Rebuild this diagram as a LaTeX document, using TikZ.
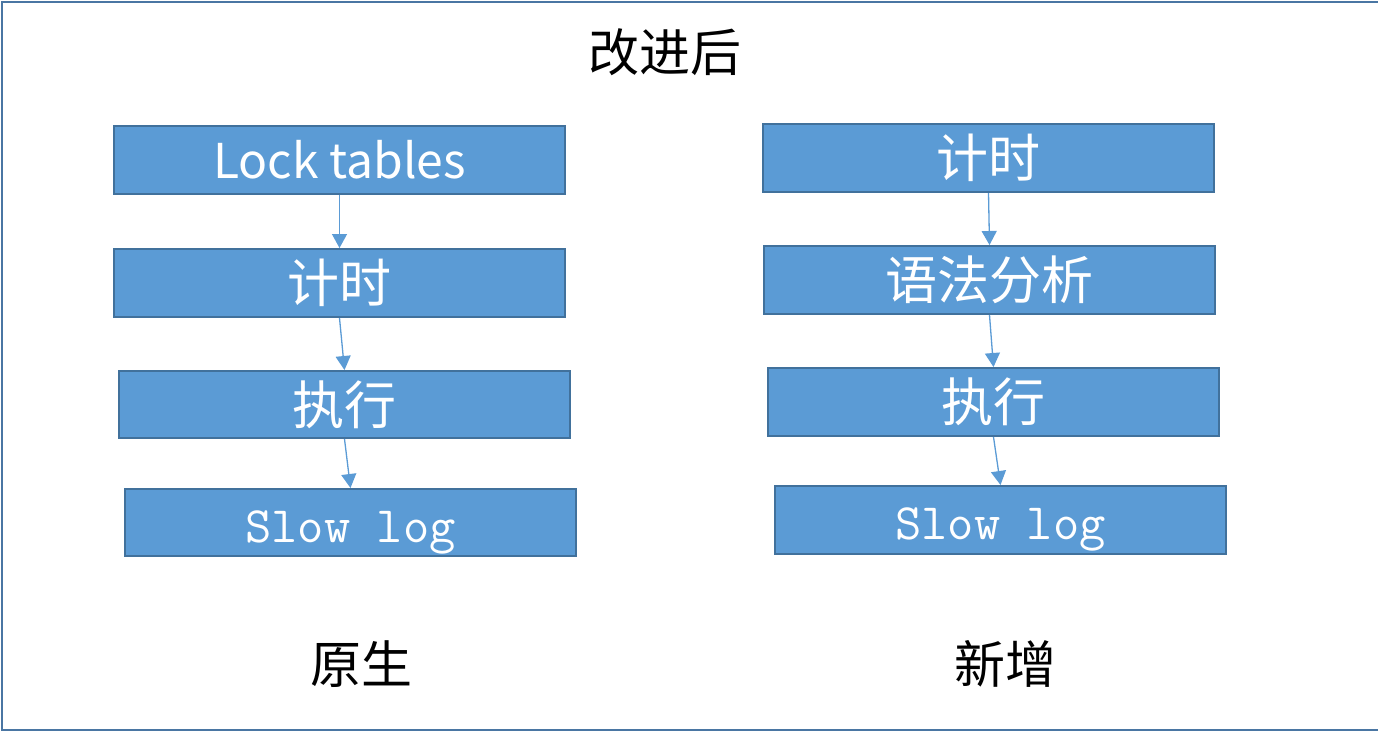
\documentclass[tikz,border=0pt]{standalone}
\usepackage{fontspec}
\newfontfamily\cjk{Noto Sans CJK SC}
\usetikzlibrary{arrows.meta}
\definecolor{boxfill}{HTML}{5B9BD5}
\definecolor{boxline}{HTML}{41719C}
\definecolor{frameline}{HTML}{4A76A3}
\tikzset{
  stepbox/.style={draw=boxline, line width=2pt, fill=boxfill, minimum width=451pt, minimum height=68pt, inner sep=0pt, text=white, font=\cjk\fontsize{52}{52}\selectfont},
  monobox/.style={stepbox, font=\ttfamily\fontsize{51}{51}\selectfont, text depth=1pt, text height=40pt},
  latbox/.style={stepbox, font=\cjk\fontsize{48}{48}\selectfont},
  flow/.style={draw=boxfill, line width=1.3pt, -{Triangle[length=14pt,width=15pt]}},
  label/.style={font=\cjk\fontsize{51}{51}\selectfont, text=black, inner sep=0pt}
}
\begin{document}
\begin{tikzpicture}[x=1pt,y=-1pt]
\useasboundingbox (0,0) rectangle (1378,732);
\draw[frameline, line width=2.5pt] (2,2) rectangle (1385,730);
\node[label] (title) at (665,52) {改进后};
% left column
\node[latbox] (a1) at (339.5,160) {Lock tables};
\node[stepbox] (a2) at (339.5,283) {计时};
\node[stepbox, minimum height=67pt] (a3) at (344.5,404.5) {执行};
\node[monobox, minimum height=67pt] (a4) at (350.5,522.5) {Slow log};
% right column
\node[stepbox] (b1) at (988.5,158) {计时};
\node[stepbox] (b2) at (989.5,280) {语法分析};
\node[stepbox] (b3) at (993.5,402) {执行};
\node[monobox] (b4) at (1000.5,520) {Slow log};
\draw[flow] (a1.south) -- (a2.north);
\draw[flow] (a2.south) -- (a3.north);
\draw[flow] (a3.south) -- (a4.north);
\draw[flow] (b1.south) -- (b2.north);
\draw[flow] (b2.south) -- (b3.north);
\draw[flow] (b3.south) -- (b4.north);
\node[label] (lab1) at (361,664) {原生};
\node[label] (lab2) at (1005,664) {新增};
\end{tikzpicture}
\end{document}
